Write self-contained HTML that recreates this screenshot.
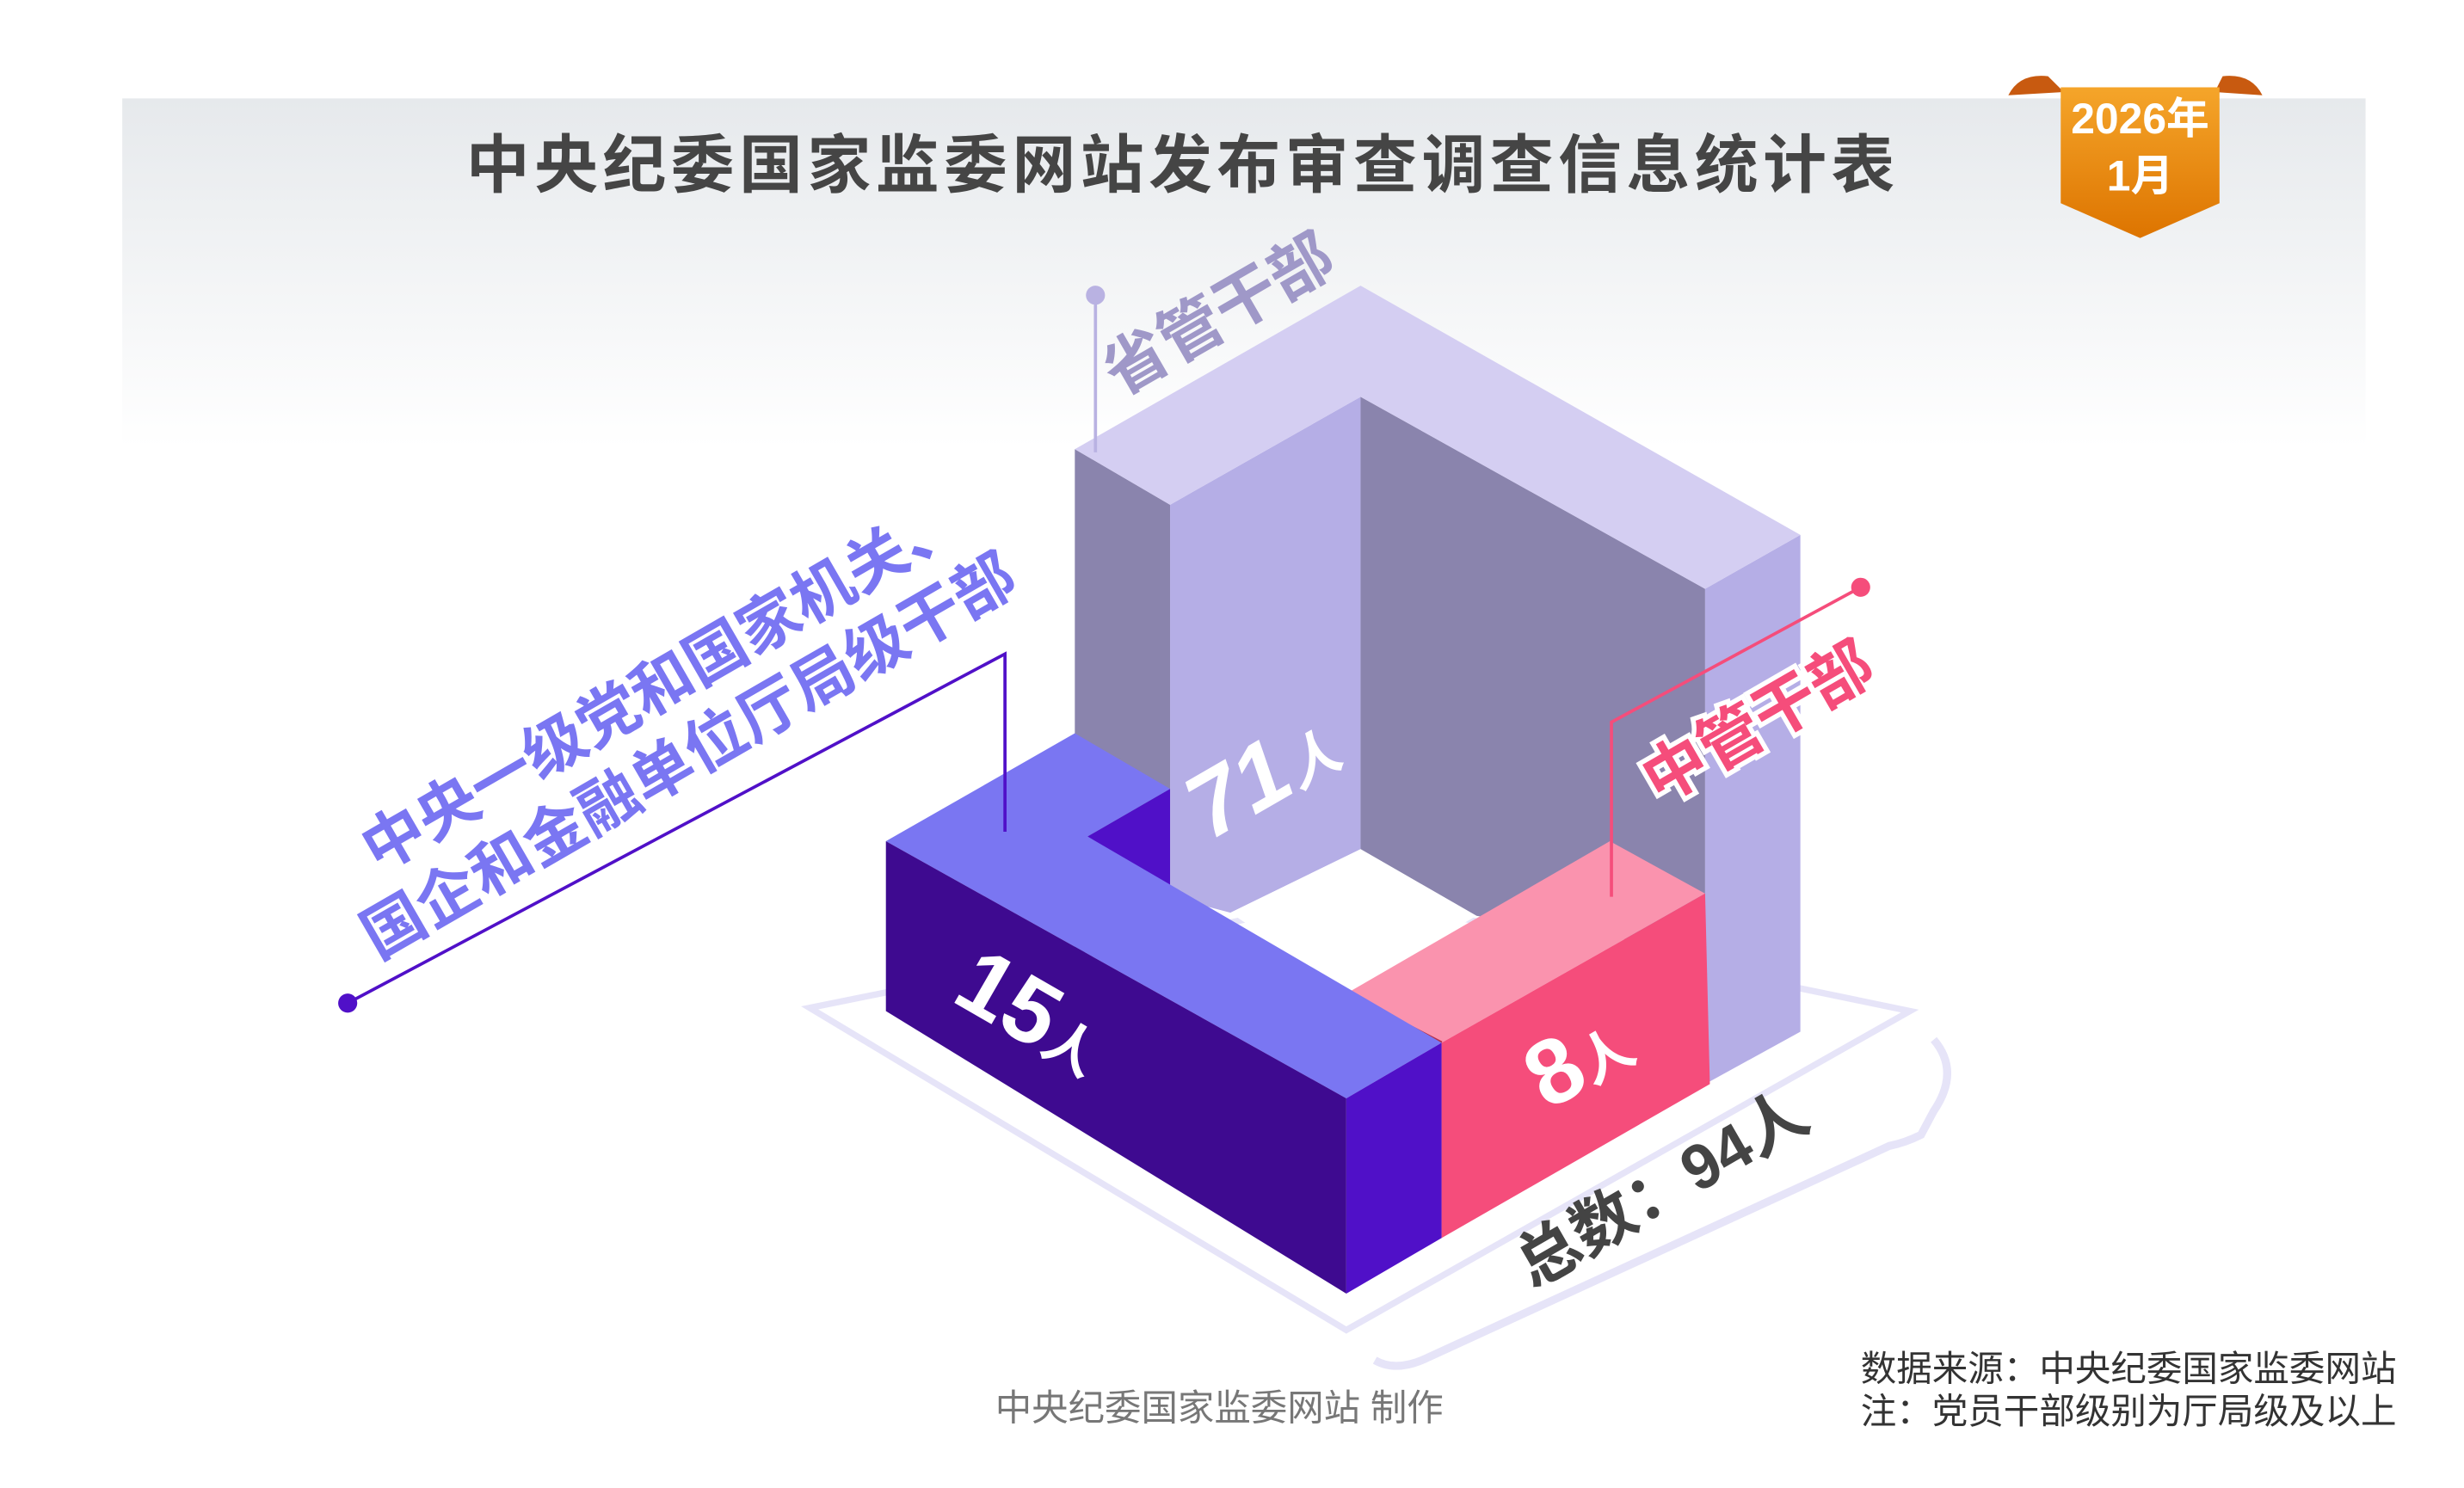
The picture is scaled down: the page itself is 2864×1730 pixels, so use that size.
<!DOCTYPE html>
<html><head><meta charset="utf-8"><style>
html,body{margin:0;padding:0;background:#fff;}
svg{display:block;}
text{font-family:"Liberation Sans","Noto Sans CJK SC",sans-serif;}
</style></head><body>
<svg width="2864" height="1730" viewBox="0 0 1552 937.5" xmlns="http://www.w3.org/2000/svg">
<defs>
<linearGradient id="bg" x1="0" y1="0" x2="0" y2="1"><stop offset="0" stop-color="#e6e9ec"/><stop offset="1" stop-color="#ffffff"/></linearGradient>
<linearGradient id="or" x1="0" y1="0" x2="0" y2="1"><stop offset="0" stop-color="#f5a52a"/><stop offset="1" stop-color="#dd7400"/></linearGradient>
</defs>
<rect x="77" y="62" width="1413" height="220" fill="url(#bg)"/>
<text x="745" y="118" text-anchor="middle" font-size="40" font-weight="bold" letter-spacing="3" fill="#454545">中央纪委国家监委网站发布审查调查信息统计表</text>
<!-- ribbon -->
<path d="M1265,60 Q1272,46 1290,48 L1300,58 Z" fill="#c85a10"/>
<path d="M1425,60 Q1418,46 1400,48 L1395,58 Z" fill="#c85a10"/>
<path d="M1298,55 L1398,55 L1398,128 L1348,150 L1298,128 Z" fill="url(#or)"/>
<text x="1348" y="84" text-anchor="middle" font-size="27" font-weight="bold" fill="#fff">2026年</text>
<text x="1348" y="120" text-anchor="middle" font-size="27" font-weight="bold" fill="#fff">1月</text>
<!-- floor outline -->
<polygon points="510,635 855,565 1203,637 848,838" fill="none" stroke="#e6e4f8" stroke-width="4"/>
<path d="M1218,655 Q1235,675 1218,700 L1210,715 Q1200,720 1190,722 L900,855 Q880,865 866,857" fill="none" stroke="#e6e4f8" stroke-width="5"/>
<!-- tall purple -->
<polygon points="677,283 737,318 737,600 677,600" fill="#8a84ad"/>
<polygon points="737,318 857,250 857,535 775,575 737,565" fill="#b5aee6"/>
<polygon points="857,250 1074,371 1074,600 930,577 857,535" fill="#8a84ad"/>
<polygon points="1074,371 1134,337 1134,650 1074,683" fill="#b5aee6"/>
<polygon points="677,283 857,180 1134,337 1074,371 857,250 737,318" fill="#d4cef2"/>
<polygon points="775,575 857,535 930,577 848,625" fill="#fff"/>
<!-- pink -->
<polygon points="848,626 1014,530 1074,563 908,657" fill="#fa93ae"/>
<polygon points="908,657 1074,563 1077,683 908,780" fill="#f54d7b"/>
<line x1="848" y1="626" x2="908" y2="657" stroke="#b0304e" stroke-width="2"/>
<!-- blue -->
<polygon points="685,527 737,497 737,565" fill="#5010c8"/>
<polygon points="558,530 677,462 737,497 685,527 908,657 848,692" fill="#7a76f2"/>
<polygon points="558,530 848,692 848,815 558,637" fill="#3e0a90"/>
<polygon points="848,692 908,657 908,780 848,815" fill="#5010c8"/>
<!-- values -->
<text transform="translate(762,530) rotate(-30)" font-size="58" font-weight="bold" font-style="italic" fill="#fff">71<tspan font-size="34">人</tspan></text>
<text transform="translate(598,630) rotate(30)" font-size="58" font-weight="bold" fill="#fff">15<tspan font-size="34">人</tspan></text>
<text transform="translate(975,700) rotate(-30)" font-size="58" font-weight="bold" fill="#fff">8<tspan font-size="34">人</tspan></text>
<!-- labels -->
<line x1="690" y1="186" x2="690" y2="285" stroke="#b9b2e2" stroke-width="2"/>
<circle cx="690" cy="186" r="6" fill="#b9b2e2"/>
<text transform="translate(705,250) rotate(-30)" font-size="40" font-weight="bold" fill="#9f98c8">省管干部</text>
<polyline points="1172,370 1015,455 1015,565" fill="none" stroke="#f54d7b" stroke-width="2"/>
<circle cx="1172" cy="370" r="6" fill="#f54d7b"/>
<text transform="translate(1045,507) rotate(-30)" font-size="40" font-weight="bold" fill="#f54d7b" stroke="#fff" stroke-width="6" paint-order="stroke">中管干部</text>
<polyline points="219,632 633,412 633,524" fill="none" stroke="#5010c8" stroke-width="2"/>
<circle cx="219" cy="632" r="6" fill="#5010c8"/>
<text transform="translate(238,550) rotate(-30)" font-size="39" font-weight="bold" fill="#7a76f2">中央一级党和国家机关、</text>
<text transform="translate(238,605) rotate(-30)" font-size="39" font-weight="bold" fill="#7a76f2">国企和金融单位厅局级干部</text>
<text transform="translate(965,812) rotate(-30)" font-size="40" font-weight="bold" fill="#444">总数：94人</text>
<!-- footer -->
<text x="768" y="895" text-anchor="middle" font-size="23" fill="#777">中央纪委国家监委网站 制作</text>
<text x="1172" y="870" font-size="22.5" fill="#333">数据来源：中央纪委国家监委网站</text>
<text x="1172" y="897" font-size="22.5" fill="#333">注：党员干部级别为厅局级及以上</text>
</svg>
</body></html>
